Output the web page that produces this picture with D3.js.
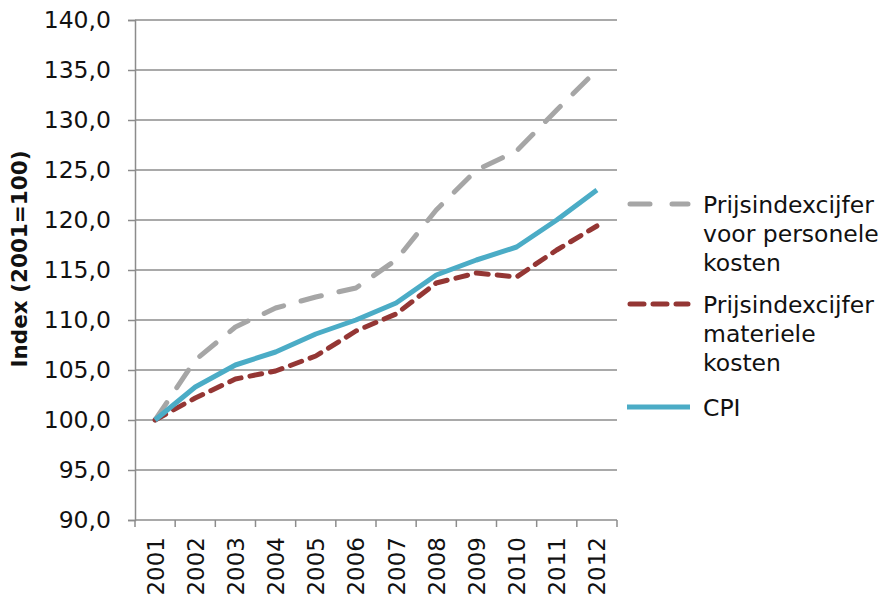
<!DOCTYPE html>
<html>
<head>
<meta charset="utf-8">
<script src="https://cdn.jsdelivr.net/npm/d3@7"></script>
<style>
  html, body { margin: 0; padding: 0; background: #fff; }
  svg { display: block; font-family: "DejaVu Sans", Verdana, sans-serif; }
</style>
</head>
<body>
<svg id="chart" width="885" height="598"></svg>
<script>
// Years on the category axis
const years = ["2001","2002","2003","2004","2005","2006","2007","2008","2009","2010","2011","2012"];

// Index series (2001 = 100)
const personeleKosten = [100, 106.0, 109.3, 111.2, 112.3, 113.2, 116.0, 121.0, 125.0, 126.9, 131.0, 135.0];
const materieleKosten = [100, 102.2, 104.1, 104.9, 106.4, 108.9, 110.6, 113.7, 114.7, 114.3, 117.0, 119.4];
const cpi             = [100, 103.3, 105.5, 106.8, 108.6, 110.0, 111.7, 114.5, 116.0, 117.3, 120.0, 123.0];

// Value axis ticks
const yTicks = [90, 95, 100, 105, 110, 115, 120, 125, 130, 135, 140];

const series = [
  { name: ["Prijsindexcijfer", "voor personele", "kosten"], values: personeleKosten,
    color: "#a6a6a6", dash: "21,18", legendDash: "20,22" },
  { name: ["Prijsindexcijfer", "materiele", "kosten"], values: materieleKosten,
    color: "#943634", dash: "12,9", legendDash: "14,9" },
  { name: ["CPI"], values: cpi, color: "#4bacc6", dash: null, legendDash: null }
];

const svg = d3.select("#chart");
const margin = { left: 135, right: 268, top: 20, bottom: 78 };
const W = 885, H = 598;
const fontSize = 23.5;

const x = d3.scaleBand().domain(years).range([margin.left, W - margin.right]).paddingInner(0).paddingOuter(0);
const y = d3.scaleLinear().domain([90, 140]).range([H - margin.bottom, margin.top]);

const fmt = v => d3.format(".1f")(v).replace(".", ",");

// Horizontal gridlines
svg.append("g")
  .selectAll("line")
  .data(yTicks.filter(t => t !== 90))
  .join("line")
  .attr("x1", margin.left).attr("x2", W - margin.right)
  .attr("y1", d => y(d)).attr("y2", d => y(d))
  .attr("stroke", "#8c8c8c").attr("stroke-width", 1.5);

// Y axis
const yAxis = svg.append("g")
  .attr("transform", `translate(${margin.left},0)`)
  .call(d3.axisLeft(y).tickValues(yTicks).tickFormat(fmt).tickSize(7).tickPadding(17));
yAxis.select(".domain").attr("stroke", "#8c8c8c").attr("stroke-width", 1.5);
yAxis.selectAll(".tick line").attr("stroke", "#8c8c8c").attr("stroke-width", 1.5);
yAxis.selectAll(".tick text").attr("font-size", fontSize).attr("fill", "#111")
  .attr("font-family", "DejaVu Sans, Verdana, sans-serif");

// X axis: ticks on category boundaries
const xg = svg.append("g").attr("transform", `translate(0,${y(90)})`);
xg.append("line")
  .attr("x1", margin.left).attr("x2", W - margin.right)
  .attr("y1", 0).attr("y2", 0)
  .attr("stroke", "#8c8c8c").attr("stroke-width", 1.5);
const boundaries = years.map(d => x(d)).concat([x(years[years.length - 1]) + x.bandwidth()]);
xg.selectAll("line.tk")
  .data(boundaries)
  .join("line").attr("class", "tk")
  .attr("x1", d => d).attr("x2", d => d)
  .attr("y1", 0).attr("y2", 7)
  .attr("stroke", "#8c8c8c").attr("stroke-width", 1.5);
xg.selectAll("text")
  .data(years)
  .join("text")
  .attr("transform", d => `translate(${x(d) + x.bandwidth() / 2 + 8.5},${17}) rotate(-90)`)
  .attr("text-anchor", "end")
  .attr("font-size", 23)
  .attr("fill", "#111")
  .text(d => d);

// Axis title
svg.append("text")
  .attr("transform", `translate(27,${(y(90) + y(140)) / 2 - 11}) rotate(-90)`)
  .attr("text-anchor", "middle")
  .attr("font-size", 21.5)
  .attr("font-weight", "bold")
  .attr("fill", "#111")
  .text("Index (2001=100)");

// Lines
const line = d3.line()
  .x((d, i) => x(years[i]) + x.bandwidth() / 2)
  .y(d => y(d));

svg.append("g")
  .selectAll("path")
  .data(series)
  .join("path")
  .attr("d", s => line(s.values))
  .attr("fill", "none")
  .attr("stroke", s => s.color)
  .attr("stroke-width", 5)
  .attr("stroke-linecap", s => s.dash ? "round" : "butt")
  .attr("stroke-linejoin", "round")
  .attr("stroke-dasharray", s => s.dash);

// Legend
const legendX = 627, legendTextX = 703, lineH = 29;
const legendTops = [204, 304, 407];
const lg = svg.append("g");
series.forEach((s, i) => {
  const ly = legendTops[i];
  lg.append("line")
    .attr("x1", s.dash ? legendX + 3 : legendX).attr("x2", s.dash ? 688 : 690)
    .attr("y1", ly).attr("y2", ly)
    .attr("stroke", s.color).attr("stroke-width", 5)
    .attr("stroke-linecap", s.dash ? "round" : "butt")
    .attr("stroke-dasharray", s.legendDash);
  const t = lg.append("text")
    .attr("x", legendTextX)
    .attr("y", ly + 8.5)
    .attr("font-size", fontSize)
    .attr("fill", "#111");
  s.name.forEach((n, k) => {
    t.append("tspan").attr("x", legendTextX).attr("dy", k === 0 ? 0 : lineH).text(n);
  });
});
</script>
</body>
</html>
